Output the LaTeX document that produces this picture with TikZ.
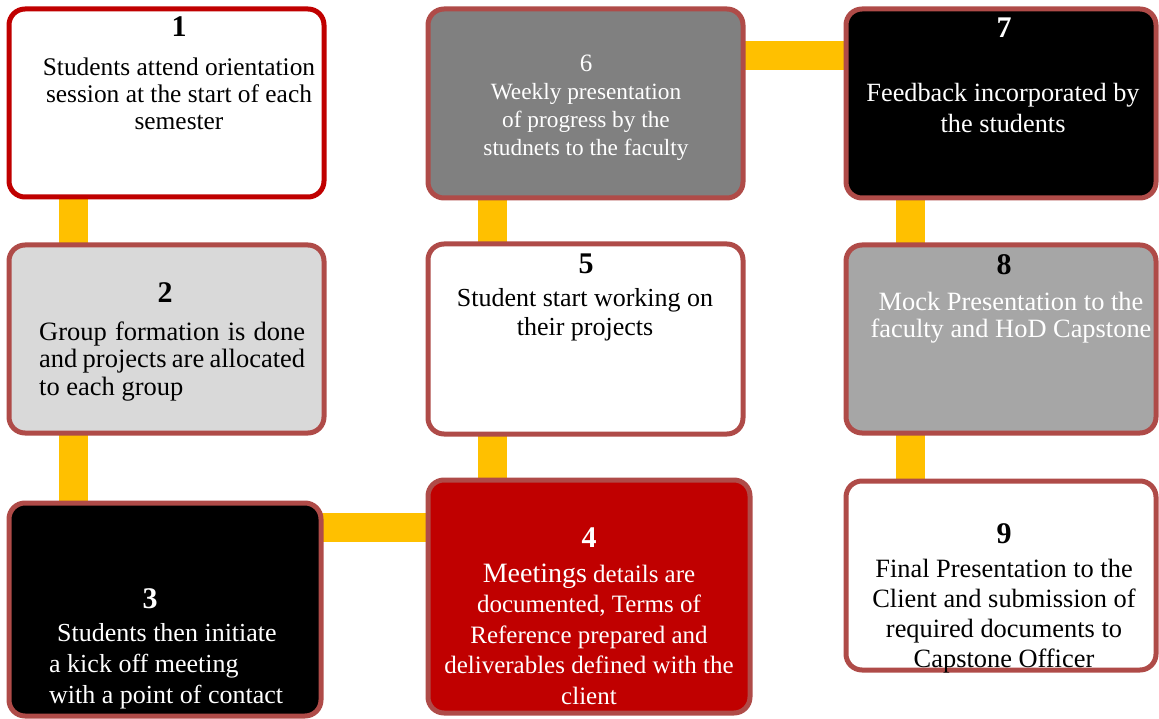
\documentclass[tikz,border=0pt]{standalone}
\usepackage{fontspec}
\setmainfont{Liberation Serif}
\usetikzlibrary{backgrounds}
\definecolor{cred}{RGB}{192,0,0}
\definecolor{cbord}{RGB}{175,75,72}
\definecolor{cyel}{RGB}{255,192,0}
\definecolor{clgray}{RGB}{217,217,217}
\definecolor{cgray}{RGB}{128,128,128}
\definecolor{cmgray}{RGB}{166,166,166}
\newcommand\fsz[2]{{\fontsize{#1}{30}\selectfont #2}}
% #1 name prefix, #2 x, #3 first baseline y, #4 line spacing, #5 style, #6 lines
\newcommand\txtlines[6]{\foreach \ln [count=\i] in {#6}{\node[#5] (#1-\i) at (#2,{#3+(\i-1)*#4}) {\ln};}}
\begin{document}
\begin{tikzpicture}[x=1pt,y=-1pt,
  stepbox/.style={rectangle, rounded corners=16pt, line width=5pt, draw=cbord, inner sep=0pt, outer sep=0pt},
  conn/.style={draw=cyel, line width=29pt},
  num/.style={font=\fontsize{30}{30}\selectfont\bfseries, anchor=base, inner sep=0pt},
  body/.style={anchor=base, inner sep=0pt},
  bodyl/.style={anchor=base west, inner sep=0pt}]
\useasboundingbox (0,0) rectangle (1159,719);

% boxes
\node[stepbox, draw=cred, fill=white, minimum width=315pt, minimum height=188pt] (b1) at (166.5,103) {};
\node[stepbox, fill=clgray, minimum width=315pt, minimum height=188pt] (b2) at (166.5,339) {};
\node[stepbox, fill=black, minimum width=312pt, minimum height=213pt] (b3) at (165,609.5) {};
\node[stepbox, fill=cred, minimum width=322pt, minimum height=233pt] (b4) at (589,596.5) {};
\node[stepbox, fill=white, minimum width=315pt, minimum height=190pt] (b5) at (585.5,339) {};
\node[stepbox, fill=cgray, minimum width=315pt, minimum height=189pt] (b6) at (585.5,103.5) {};
\node[stepbox, fill=black, minimum width=310pt, minimum height=189pt] (b7) at (1001,103.5) {};
\node[stepbox, fill=cmgray, minimum width=310pt, minimum height=188pt] (b8) at (1001,339) {};
\node[stepbox, fill=white, minimum width=310pt, minimum height=189pt] (b9) at (1001,575.5) {};

% connectors (behind the boxes)
\coordinate (xa) at (73.5,0);
\coordinate (xb) at (492.5,0);
\coordinate (xc) at (910.5,0);
\coordinate (ya) at (0,527.5);
\coordinate (yb) at (0,55.5);
\begin{scope}[on background layer]
\draw[conn] (b1.south -| xa) -- (b2.north -| xa);
\draw[conn] (b2.south -| xa) -- (b3.north -| xa);
\draw[conn] (b3.east |- ya) -- (b4.west |- ya);
\draw[conn] (b4.north -| xb) -- (b5.south -| xb);
\draw[conn] (b5.north -| xb) -- (b6.south -| xb);
\draw[conn] (b6.east |- yb) -- (b7.west |- yb);
\draw[conn] (b7.south -| xc) -- (b8.north -| xc);
\draw[conn] (b8.south -| xc) -- (b9.north -| xc);
\end{scope}

% box 1
\node[num] (n1) at (179,37) {1};
\txtlines{t1}{179}{76}{27}{body, font=\fontsize{25.4}{30}\selectfont}{Students attend orientation,session at the start of each,semester}
% box 2
\node[num] (n2) at (165,302) {2};
\txtlines{t2}{39}{340}{27.5}{bodyl, font=\fontsize{26.5}{30}\selectfont}{\makebox[266pt][s]{Group formation is done},\makebox[266pt][s]{and projects are allocated},to each group}
% box 3
\node[num, text=white] (n3) at (150,608) {3};
\txtlines{t3}{49}{641}{31}{bodyl, text=white, font=\fontsize{26}{30}\selectfont}{\hspace*{8pt}Students then initiate,a kick off meeting,with a point of contact}
% box 4
\node[num, text=white] (n4) at (589,547) {4};
\txtlines{t4}{589}{582}{30.5}{body, text=white, font=\fontsize{25}{30}\selectfont}{\fsz{28}{Meetings} details are,{documented, Terms of},Reference prepared and,deliverables defined with the,client}
% box 5
\node[num] (n5) at (586,274) {5};
\txtlines{t5}{585}{307}{28}{body, font=\fontsize{26}{30}\selectfont}{Student start working on,their projects}
% box 6
\node[num, text=white, font=\fontsize{25}{30}\selectfont] (n6) at (586,72) {6};
\txtlines{t6}{586}{100}{28}{body, text=white, font=\fontsize{23.3}{30}\selectfont}{Weekly presentation,of progress by the,studnets to the faculty}
% box 7
\node[num, text=white] (n7) at (1004,38) {7};
\txtlines{t7}{1003}{102}{31}{body, text=white, font=\fontsize{26.3}{30}\selectfont}{Feedback incorporated by,the students}
% box 8
\node[num] (n8) at (1004,275) {8};
\txtlines{t8}{1011}{310}{27}{body, text=white, font=\fontsize{26.4}{30}\selectfont}{Mock Presentation to the,faculty and HoD Capstone}
% box 9
\node[num] (n9) at (1004,543) {9};
\txtlines{t9}{1004}{577}{30.3}{body, font=\fontsize{26.4}{30}\selectfont}{Final Presentation to the,Client and submission of,required documents to,Capstone Officer}
\end{tikzpicture}
\end{document}
